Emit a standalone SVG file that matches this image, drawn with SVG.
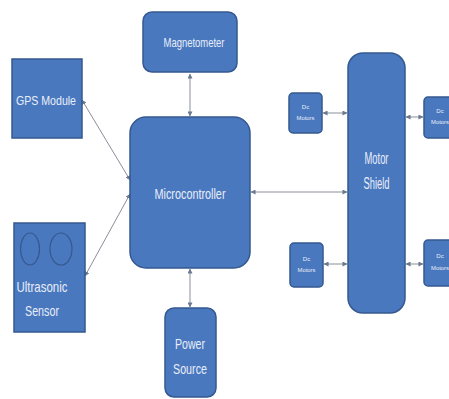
<svg xmlns="http://www.w3.org/2000/svg" width="449" height="399" viewBox="0 0 449 399">
<defs>
<marker id="ah" viewBox="0 0 6 6" refX="5.5" refY="3" markerWidth="5" markerHeight="5" orient="auto-start-reverse" markerUnits="userSpaceOnUse">
<path d="M0,0 L6,3 L0,6 z" fill="#6b7a8f"/>
</marker>
</defs>
<style>
.box{fill:#4a78bf;stroke:#34588f;stroke-width:1.5}
.t{fill:#e8eef8;font-family:"Liberation Sans",Arial,sans-serif;text-anchor:middle}
.c{stroke:#8a8f99;stroke-width:1;fill:none;marker-start:url(#ah);marker-end:url(#ah)}
.ring{fill:none;stroke:#34588f;stroke-width:1.2}
</style>
<rect width="449" height="399" fill="#ffffff"/>
<g id="connectors">
<line class="c" x1="82" y1="100" x2="130" y2="180"/>
<line class="c" x1="85" y1="276" x2="130" y2="194"/>
<line class="c" x1="190" y1="74" x2="190" y2="116"/>
<line class="c" x1="190" y1="269" x2="190" y2="307"/>
<line class="c" x1="251" y1="192" x2="347" y2="192"/>
<line class="c" x1="323" y1="113" x2="347" y2="113"/>
<line class="c" x1="406" y1="117" x2="423" y2="117"/>
<line class="c" x1="324" y1="264" x2="347" y2="264"/>
<line class="c" x1="406" y1="264" x2="423" y2="264"/>
</g>
<g id="gps">
<rect class="box" x="12" y="59" width="70" height="79"/>
<text class="t" x="46" y="105" font-size="13" textLength="60" lengthAdjust="spacingAndGlyphs">GPS Module</text>
</g>
<g id="magnetometer">
<rect class="box" x="143" y="12" width="94" height="60" rx="9"/>
<text class="t" x="194" y="47" font-size="13" textLength="61" lengthAdjust="spacingAndGlyphs">Magnetometer</text>
</g>
<g id="microcontroller">
<rect class="box" x="130" y="117" width="120" height="151" rx="16"/>
<text class="t" x="190" y="199" font-size="14" textLength="71" lengthAdjust="spacingAndGlyphs">Microcontroller</text>
</g>
<g id="ultrasonic">
<rect class="box" x="14" y="223" width="71" height="109"/>
<ellipse class="ring" cx="30" cy="249" rx="9.5" ry="16"/>
<ellipse class="ring" cx="61" cy="249" rx="11" ry="16"/>
<text class="t" x="42" y="292" font-size="15" textLength="51" lengthAdjust="spacingAndGlyphs">Ultrasonic</text>
<text class="t" x="42" y="316" font-size="15" textLength="34" lengthAdjust="spacingAndGlyphs">Sensor</text>
</g>
<g id="power">
<rect class="box" x="165" y="308" width="51" height="89" rx="9"/>
<text class="t" x="190" y="349" font-size="15" textLength="30" lengthAdjust="spacingAndGlyphs">Power</text>
<text class="t" x="190" y="374" font-size="15" textLength="34" lengthAdjust="spacingAndGlyphs">Source</text>
</g>
<g id="motorshield">
<rect class="box" x="348" y="53" width="57" height="260" rx="15"/>
<text class="t" x="376.5" y="164" font-size="16" textLength="24" lengthAdjust="spacingAndGlyphs">Motor</text>
<text class="t" x="376.5" y="189" font-size="16" textLength="26" lengthAdjust="spacingAndGlyphs">Shield</text>
</g>
<g id="dc1">
<rect class="box" x="289" y="93" width="33" height="40" rx="4"/>
<text class="t" x="305.5" y="109" font-size="6">Dc</text>
<text class="t" x="305.5" y="120" font-size="6" textLength="18" lengthAdjust="spacingAndGlyphs">Motors</text>
</g>
<g id="dc2">
<rect class="box" x="424" y="97" width="32" height="41" rx="4"/>
<text class="t" x="440" y="113" font-size="6">Dc</text>
<text class="t" x="440" y="124" font-size="6" textLength="18" lengthAdjust="spacingAndGlyphs">Motors</text>
</g>
<g id="dc3">
<rect class="box" x="290" y="243" width="33" height="44" rx="4"/>
<text class="t" x="306.5" y="261" font-size="6">Dc</text>
<text class="t" x="306.5" y="272" font-size="6" textLength="18" lengthAdjust="spacingAndGlyphs">Motors</text>
</g>
<g id="dc4">
<rect class="box" x="424" y="240" width="32" height="46" rx="4"/>
<text class="t" x="440" y="258" font-size="6">Dc</text>
<text class="t" x="440" y="270" font-size="6" textLength="18" lengthAdjust="spacingAndGlyphs">Motors</text>
</g>
</svg>
